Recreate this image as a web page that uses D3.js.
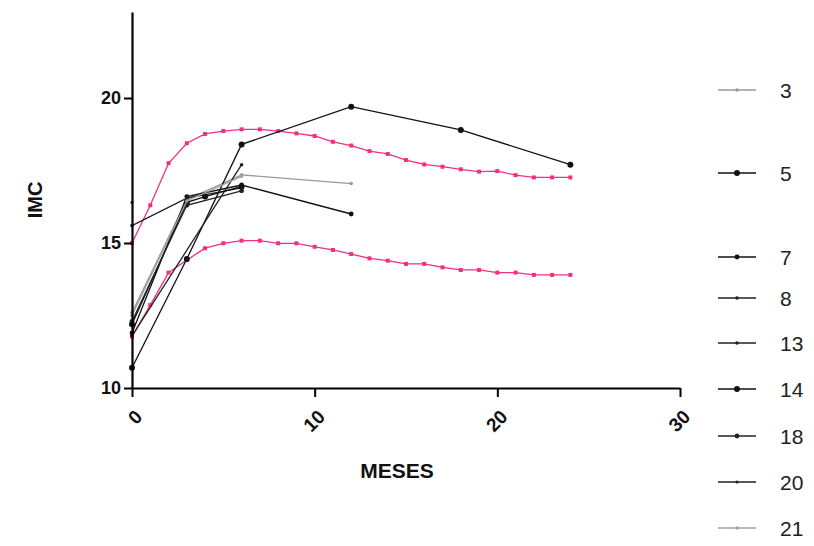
<!DOCTYPE html>
<html>
<head>
<meta charset="utf-8">
<script src="https://cdn.jsdelivr.net/npm/d3@7"></script>
<style>
  body { margin: 0; background: #fff; }
  svg { display: block; font-family: "Liberation Sans", Arial, sans-serif; }
</style>
</head>
<body>
<div id="chart"></div>
<script>
// ===== Config =====
const WIDTH = 814, HEIGHT = 546;
const X0 = 132, X1 = 680, YBOT = 388, YTOP = 12;
const PINK = "#f2307f";

// ===== Data =====
// reference curves (monthly, 0..24)
const refMonths = d3.range(0, 25);
const refUpper = [15.0, 16.3, 17.75, 18.44, 18.76, 18.86, 18.92, 18.92, 18.86, 18.78, 18.69, 18.49, 18.36,
                  18.17, 18.07, 17.86, 17.71, 17.63, 17.54, 17.46, 17.48, 17.34, 17.26, 17.26, 17.26];
const refLower = [11.77, 12.86, 13.98, 14.41, 14.82, 14.99, 15.08, 15.08, 14.99, 14.99, 14.87, 14.76, 14.62,
                  14.47, 14.39, 14.28, 14.28, 14.16, 14.07, 14.07, 13.98, 13.98, 13.9, 13.9, 13.9];

// individual children
const childIds = ["3", "5", "7", "8", "13", "14", "18", "20", "21"];
const childMonths = [
  [0, 3, 6, 12],
  [0, 3, 6, 12, 18, 24],
  [0, 3, 6, 12],
  [0, 6],
  [0, 3, 6],
  [0, 3, 4, 6],
  [0, 3, 6],
  [0],
  [0, 3, 6]
];
const childImc = [
  [12.6, 16.5, 17.35, 17.05],
  [10.7, 14.45, 18.4, 19.7, 18.9, 17.7],
  [11.9, 16.6, 17.0, 16.0],
  [11.8, 17.7],
  [15.6, 16.55, 16.9],
  [12.2, 16.4, 16.6, 16.95],
  [12.3, 16.3, 16.8],
  [16.4],
  [12.5, 16.45, 17.3]
];
const childColor = ["#9a9a9a", "#111", "#111", "#222", "#222", "#111", "#222", "#222", "#a0a0a0"];
const childDot = [1.8, 3, 2.4, 1.8, 1.8, 3, 2.4, 1.6, 1.8];

const xTicks = [0, 10, 20, 30];
const yTicks = [10, 15, 20];

// legend layout (y of each entry)
const legendY = [90, 173, 257, 298, 343, 389, 436, 482, 528];

// ===== Build =====
const svg = d3.select("#chart").append("svg")
  .attr("width", WIDTH).attr("height", HEIGHT);

const x = d3.scaleLinear().domain([0, 30]).range([X0, X1]);
const y = d3.scaleLinear().domain([10, 20]).range([YBOT, 98]);
const yMax = y.invert(YTOP);

const line = d3.line().x(d => x(d[0])).y(d => y(d[1]));

// reference curves
[refUpper, refLower].forEach(vals => {
  const pts = refMonths.map((m, i) => [m, vals[i]]);
  svg.append("path").attr("d", line(pts))
    .attr("fill", "none").attr("stroke", PINK).attr("stroke-width", 1.3);
  svg.append("g").selectAll("rect").data(pts).join("rect")
    .attr("x", d => x(d[0]) - 2).attr("y", d => y(d[1]) - 2)
    .attr("width", 4).attr("height", 4).attr("fill", PINK);
});

// children
childIds.forEach((id, k) => {
  const pts = childMonths[k].map((m, i) => [m, childImc[k][i]]);
  const g = svg.append("g");
  g.append("path").attr("d", line(pts))
    .attr("fill", "none").attr("stroke", childColor[k]).attr("stroke-width", 1.3);
  g.selectAll("circle").data(pts).join("circle")
    .attr("cx", d => x(d[0])).attr("cy", d => y(d[1]))
    .attr("r", childDot[k]).attr("fill", childColor[k]);
});

// axes
const xAxis = svg.append("g").attr("transform", `translate(0,${YBOT})`)
  .call(d3.axisBottom(x).tickValues(xTicks).tickSize(9).tickSizeOuter(0));
xAxis.select(".domain").attr("stroke-width", 2.2);
xAxis.selectAll(".tick line").attr("stroke-width", 2);
xAxis.selectAll(".tick text")
  .attr("font-size", 19).attr("font-weight", "bold").attr("fill", "#111")
  .attr("text-anchor", "end").attr("dy", 0)
  .attr("transform", "translate(11,30) rotate(-45)")
  .attr("y", 0).attr("x", 0);

const yAxis = svg.append("g").attr("transform", `translate(${X0},0)`)
  .call(d3.axisLeft(y.copy().domain([10, yMax]).range([YBOT, YTOP])).tickValues(yTicks).tickSize(8).tickSizeOuter(0));
yAxis.select(".domain").attr("stroke-width", 2.2);
yAxis.selectAll(".tick line").attr("stroke-width", 2);
yAxis.selectAll(".tick text")
  .attr("font-size", 18).attr("font-weight", "bold").attr("fill", "#111").attr("x", -11);

svg.append("text").attr("x", 397).attr("y", 478)
  .attr("text-anchor", "middle").attr("font-size", 21).attr("font-weight", "bold")
  .attr("fill", "#111").text("MESES");
svg.append("text").attr("transform", "translate(42,200) rotate(-90)")
  .attr("text-anchor", "middle").attr("font-size", 20).attr("font-weight", "bold")
  .attr("fill", "#111").text("IMC");

// legend
const lg = svg.append("g").selectAll("g").data(childIds).join("g")
  .attr("transform", (d, i) => `translate(718,${legendY[i]})`);
lg.append("line").attr("x1", 0).attr("x2", 38)
  .attr("stroke", (d, i) => childColor[i]).attr("stroke-width", 1.5);
lg.append("circle").attr("cx", 19).attr("r", (d, i) => childDot[i])
  .attr("fill", (d, i) => childColor[i]);
lg.append("text").attr("x", 62).attr("dy", "0.36em")
  .attr("font-size", 21).attr("fill", "#222").text(d => d);
</script>
</body>
</html>
